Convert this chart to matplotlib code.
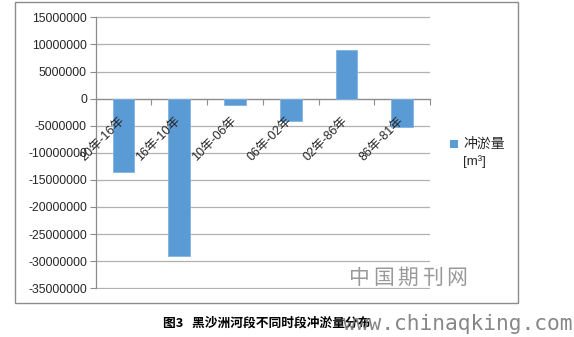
import matplotlib
matplotlib.use("Agg")
import matplotlib.pyplot as plt
import matplotlib.transforms as mtransforms
from matplotlib.patches import Rectangle
import numpy as np

categories = ["20年-16年", "16年-10年", "10年-06年", "06年-02年", "02年-86年", "86年-81年"]
values = [-13600000, -29000000, -1100000, -4200000, 8900000, -5300000]
yticks = [15000000, 10000000, 5000000, 0, -5000000, -10000000, -15000000,
          -20000000, -25000000, -30000000, -35000000]
legend_label = "冲淤量"
legend_unit = "[m³]"
caption = "图3   黑沙洲河段不同时段冲淤量分布"
watermark_cn = "中国期刊网"
watermark_url = "www.chinaqking.com"

W, H = 574, 337
fig = plt.figure(figsize=(W / 100, H / 100), dpi=100)
fig.patch.set_facecolor("white")

# outer chart border
fig.patches.append(Rectangle((15 / W, 1 - 303 / H), (518 - 15) / W, (303 - 2) / H,
                             transform=fig.transFigure, fill=False,
                             edgecolor="#8c8c8c", linewidth=1.0))

ax = fig.add_axes([95.7 / W, 1 - 289.3 / H, (430 - 95.7) / W, (289.3 - 16.3) / H])
x = np.arange(len(categories))
ax.bar(x, values, width=0.39, color="#5B9BD5", edgecolor="#7fb2e0", linewidth=0.6, zorder=3)

pad = 0.0037 * (max(yticks) - min(yticks))
ax.set_xlim(-0.5, len(categories) - 0.5)
ax.set_ylim(min(yticks) - pad, max(yticks) + pad)
ax.set_yticks(yticks)
ax.set_yticklabels([str(v) for v in yticks], fontsize=8.8, color="#262626",
                   family=["Liberation Sans", "DejaVu Sans"])
ax.grid(axis="y", color="#b0b0b0", linewidth=0.9, zorder=0)
ax.tick_params(axis="y", direction="out", length=4.3, width=0.8, color="#8c8c8c", pad=2)

for s in ["top", "right"]:
    ax.spines[s].set_visible(False)
ax.spines["left"].set_color("#8c8c8c")
ax.spines["left"].set_linewidth(0.9)
ax.spines["left"].set_bounds(min(yticks), max(yticks))
ax.spines["bottom"].set_position(("data", 0))
ax.spines["bottom"].set_color("#8c8c8c")
ax.spines["bottom"].set_linewidth(0.9)
ax.set_xticks(x)
ax.set_xticklabels([])
ax.tick_params(axis="x", which="major", length=0)
ax.set_xticks(np.arange(-0.5, len(categories), 1.0), minor=True)
ax.tick_params(axis="x", which="minor", direction="out", length=4.3, width=0.8, color="#8c8c8c")

offset = mtransforms.ScaledTranslation(3.5 / 100, -16 / 100, fig.dpi_scale_trans)
for xi, lab in zip(x, categories):
    ax.text(xi, 0, lab, rotation=45, ha="right", va="top", fontsize=9,
            color="#262626", family=["Liberation Sans", "Noto Sans CJK SC"],
            transform=ax.transData + offset, zorder=5)

# legend
fig.patches.append(Rectangle((450 / W, 1 - 148 / H), 8 / W, 8 / H,
                             transform=fig.transFigure, facecolor="#5B9BD5",
                             edgecolor="none"))
fig.text(463 / W, 1 - 144 / H, legend_label, fontsize=10, va="center", ha="left",
         color="#262626", family=["Noto Sans CJK SC", "DejaVu Sans"])
fig.text(463 / W, 1 - 162 / H, legend_unit, fontsize=9.5, va="center", ha="left",
         color="#262626", family=["Liberation Sans", "DejaVu Sans"])

# caption
fig.text(163 / W, 1 - 323 / H, caption, fontsize=9.2, fontweight="bold", va="center",
         ha="left", color="black", family=["Noto Sans CJK SC", "DejaVu Sans"])

# watermarks
for i, ch in enumerate(watermark_cn):
    fig.text((359 + i * 24.5) / W, 1 - 278 / H, ch, fontsize=15, va="center", ha="center",
             color="#999999", family=["Noto Sans CJK SC"])
fig.text(343 / W, 1 - 324 / H, watermark_url, fontsize=15.3, va="center", ha="left",
         color="#7a7a7a", family=["DejaVu Sans Mono"], alpha=0.9)

fig.savefig("out.png", dpi=100)
